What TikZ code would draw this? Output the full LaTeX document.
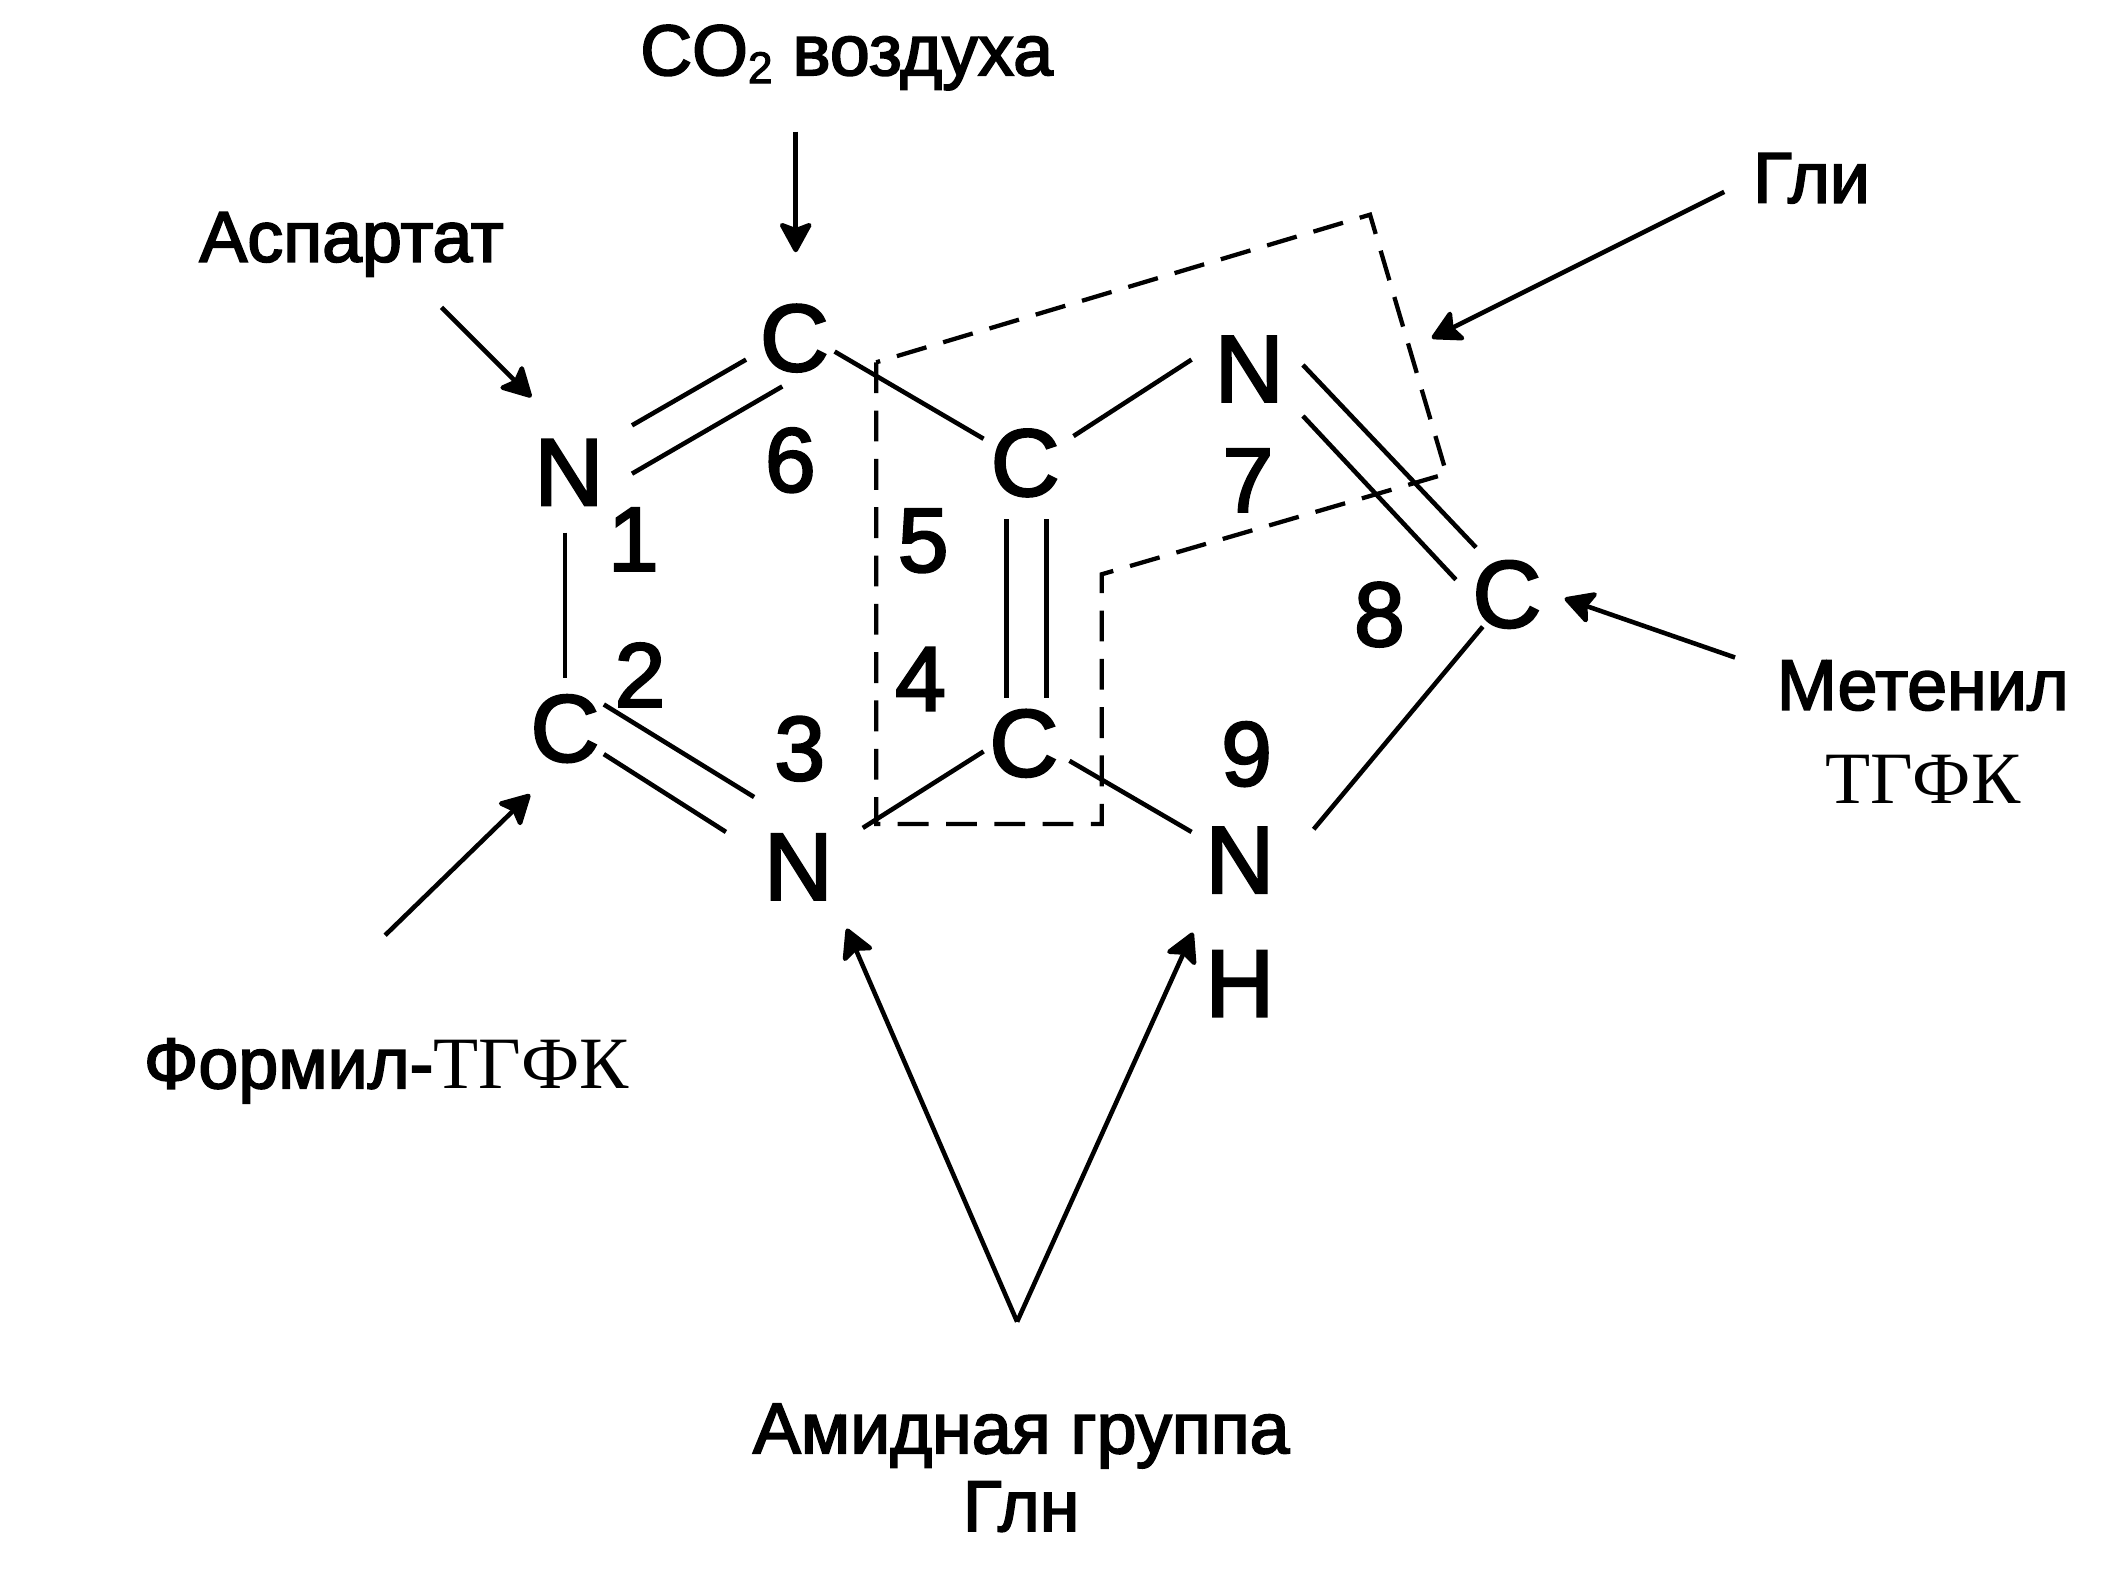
\documentclass[tikz,border=0pt]{standalone}
\usepackage{fontspec}
\usetikzlibrary{arrows.meta}
\setmainfont{Liberation Sans}
\newfontfamily\labfont[FakeBold=2.5]{Liberation Sans}
\newfontfamily\serfont{Liberation Serif}
\tikzset{
  atom/.style={inner sep=0pt,anchor=center,font=\labfont\fontsize{71}{71}\selectfont},
  num/.style={inner sep=0pt,anchor=center,font=\labfont\fontsize{68}{68}\selectfont},
  lab/.style={inner sep=0pt,anchor=base,font=\labfont\fontsize{53.5}{53.5}\selectfont},
  ser/.style={inner sep=0pt,anchor=base,font=\serfont\fontsize{55}{55}\selectfont},
  bond/.style={line width=3.4pt,black},
  arr/.style={line width=3.4pt,black,-{Stealth[length=25pt,width=27pt,inset=5pt,round]}},
  frame/.style={line width=3.2pt,black,dash pattern=on 23pt off 13pt},
}
\begin{document}
\begin{tikzpicture}[x=1pt,y=-1pt]
\fill[white] (0,0) rectangle (1568,1177.5);
\useasboundingbox (0,0) rectangle (1568,1177.5);
% atoms
\node[atom] (C6) at (592,252) {C};
\node[atom] (N1) at (424,352) {N};
\node[atom] (C2) at (421,543) {C};
\node[atom] (N3) at (595,646) {N};
\node[atom] (C4) at (763,554) {C};
\node[atom] (C5) at (764,345) {C};
\node[atom] (N7) at (931,275) {N};
\node[atom] (C8) at (1123,443) {C};
\node[atom] (N9) at (924,641) {N};
\node[atom] (H9) at (924,733) {H};
% numbers
\node[num] (n6) at (589,343) {6};
\node[num] (n1) at (472,402) {1};
\node[num] (n2) at (477,503) {2};
\node[num] (n3) at (596,558) {3};
\node[num] (n4) at (686,506) {4};
\node[num] (n5) at (688,403) {5};
\node[num] (n7) at (930,358) {7};
\node[num] (n8) at (1028,458) {8};
\node[num] (n9) at (929,562) {9};
% labels
\node[lab] (co2) at (631,56) {CO\raisebox{-0.11em}{\fontsize{33}{33}\selectfont 2} воздуха};
\node[lab] (asp) at (262,195) {Аспартат};
\node[lab] (gli) at (1350,151) {Гли};
\node[lab] (met) at (1433,529) {Метенил};
\node[ser] (tgfk) at (1433,599) {ТГФК};
\node[inner sep=0pt,anchor=base west] (form) at (107,811) {{\labfont\fontsize{53.5}{53.5}\selectfont Формил-}{\serfont\fontsize{55}{55}\selectfont ТГФК}};
\node[lab] (amid) at (761,1083) {Амидная группа};
\node[lab] (gln) at (761,1141) {Глн};
\coordinate (apex) at (758,985);
% bonds
\draw[bond] ([shift={(47,-35)}]N1.center) -- ([shift={(-36,16)}]C6.center);
\draw[bond] ([shift={(47,1)}]N1.center) -- ([shift={(-9,36)}]C6.center);
\draw[bond] ([shift={(30,10)}]C6.center) -- ([shift={(-31,-18)}]C5.center);
\draw[bond] ([shift={(36,-20)}]C5.center) -- ([shift={(-43,-7)}]N7.center);
\draw[bond] ([shift={(-14,42)}]C5.center) -- ([shift={(-13,-34)}]C4.center);
\draw[bond] ([shift={(16,42)}]C5.center) -- ([shift={(17,-34)}]C4.center);
\draw[bond] ([shift={(40,-3)}]N7.center) -- ([shift={(-23,-35)}]C8.center);
\draw[bond] ([shift={(40,35)}]N7.center) -- ([shift={(-38,-11)}]C8.center);
\draw[bond] ([shift={(-18,24)}]C8.center) -- ([shift={(55,-23)}]N9.center);
\draw[bond] ([shift={(34,13)}]C4.center) -- ([shift={(-36,-21)}]N9.center);
\draw[bond] ([shift={(-30,6)}]C4.center) -- ([shift={(48,-29)}]N3.center);
\draw[bond] ([shift={(29,-18)}]C2.center) -- ([shift={(-33,-52)}]N3.center);
\draw[bond] ([shift={(29,19)}]C2.center) -- ([shift={(-54,-26)}]N3.center);
\draw[bond] ([shift={(-3,45)}]N1.center) -- ([shift={(0,-38)}]C2.center);
% dashed frame
\draw[frame] (653,270) -- (653,614) -- (821,614) -- (821,428) -- (1078,353) -- (1021,160) -- cycle;
% arrows
\draw[arr] ([shift={(-38,42)}]co2.base) -- ([shift={(1,-64)}]C6.center);
\draw[arr] ([shift={(67,34)}]asp.base) -- ([shift={(-28,-56)}]N1.center);
\draw[arr] ([shift={(-65,-8)}]gli.base) -- ([shift={(-56,-191)}]C8.center);
\draw[arr] ([shift={(-140,-39)}]met.base) -- ([shift={(43,3)}]C8.center);
\draw[arr] ([shift={(180,-114)}]form.base west) -- ([shift={(-26,49)}]C2.center);
\draw[arr] (apex) -- ([shift={(36,46)}]N3.center);
\draw[arr] (apex) -- ([shift={(-35,54)}]N9.center);
\end{tikzpicture}
\end{document}
